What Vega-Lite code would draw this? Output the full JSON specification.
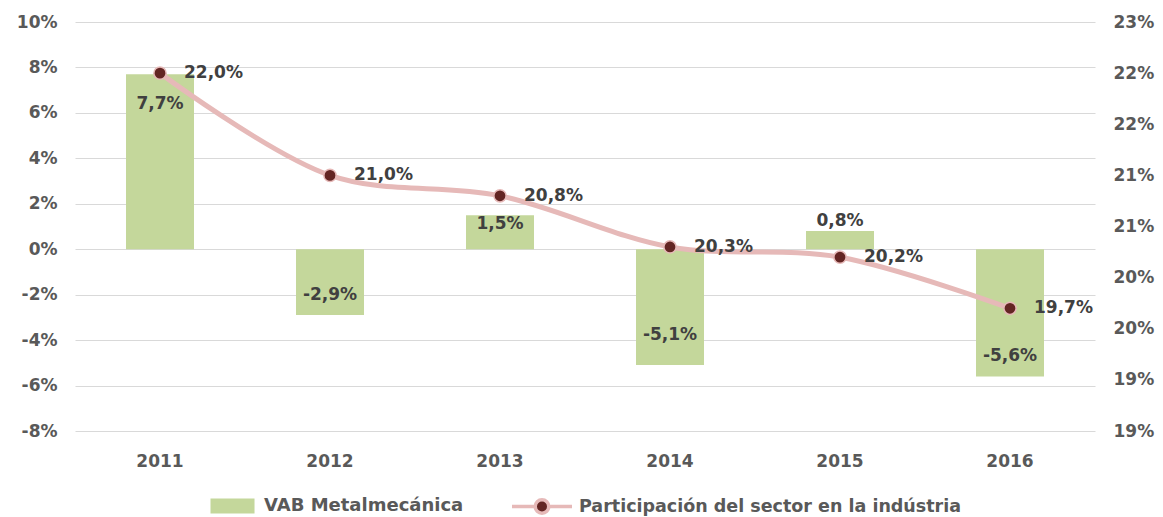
{
 "$schema": "https://vega.github.io/schema/vega-lite/v6.json",
 "width": 1020,
 "height": 409,
 "autosize": {"type": "none"},
 "padding": {"left": 75, "top": 22, "right": 68, "bottom": 86},
 "background": "white",
 "data": {"values": [
  {"year": "2011", "vab": 7.7, "part": 22.0},
  {"year": "2012", "vab": -2.9, "part": 21.0},
  {"year": "2013", "vab": 1.5, "part": 20.8},
  {"year": "2014", "vab": -5.1, "part": 20.3},
  {"year": "2015", "vab": 0.8, "part": 20.2},
  {"year": "2016", "vab": -5.6, "part": 19.7}
 ]},
 "encoding": {
  "x": {"field": "year", "type": "ordinal",
   "scale": {"paddingInner": 0.6, "paddingOuter": 0.3},
   "axis": {"title": null, "labelAngle": 0, "domain": false, "ticks": false, "labelPadding": 22,
    "labelFont": "DejaVu Sans", "labelFontWeight": "bold", "labelFontSize": 17, "labelColor": "#595959"}}
 },
 "layer": [
  {
   "encoding": {
    "y": {"field": "vab", "type": "quantitative",
     "scale": {"domain": [-8, 10], "nice": false},
     "axis": {"orient": "left", "title": null, "values": [-8, -6, -4, -2, 0, 2, 4, 6, 8, 10], "format": "$.0f",
      "grid": true, "gridColor": "#d9d9d9", "gridWidth": 1, "domain": false, "ticks": false, "labelPadding": 18,
      "labelFont": "DejaVu Sans", "labelFontWeight": "bold", "labelFontSize": 17, "labelColor": "#595959"}}
   },
   "layer": [
    {"mark": {"type": "bar"},
     "encoding": {"fill": {"datum": "VAB Metalmecánica", "scale": {"range": ["#c4d79b"]},
      "legend": {"title": null, "orient": "bottom", "symbolType": "M-1,-1H4.87V1H-1Z", "symbolSize": 225, "symbolStrokeWidth": 0,
       "labelFont": "DejaVu Sans", "labelFontWeight": "bold", "labelFontSize": 18, "labelColor": "#595959", "labelLimit": 600, "labelOffset": 37}}}},
    {"transform": [{"filter": "datum.year == '2011'"}],
     "mark": {"type": "text", "align": "center", "baseline": "middle", "dy": 30, "font": "DejaVu Sans", "fontWeight": "bold", "fontSize": 17, "color": "#404040"},
     "encoding": {"text": {"field": "vab", "type": "quantitative", "format": "$.1f"}}},
    {"transform": [{"filter": "datum.year == '2014'"}],
     "mark": {"type": "text", "align": "center", "baseline": "middle", "dy": -30, "font": "DejaVu Sans", "fontWeight": "bold", "fontSize": 17, "color": "#404040"},
     "encoding": {"text": {"field": "vab", "type": "quantitative", "format": "$.1f"}}},
    {"transform": [{"filter": "datum.year == '2012' || datum.year == '2016'"}],
     "mark": {"type": "text", "align": "center", "baseline": "middle", "dy": -20, "font": "DejaVu Sans", "fontWeight": "bold", "fontSize": 17, "color": "#404040"},
     "encoding": {"text": {"field": "vab", "type": "quantitative", "format": "$.1f"}}},
    {"transform": [{"filter": "datum.year == '2013'"}],
     "mark": {"type": "text", "align": "center", "baseline": "middle", "dy": 9, "font": "DejaVu Sans", "fontWeight": "bold", "fontSize": 17, "color": "#404040"},
     "encoding": {"text": {"field": "vab", "type": "quantitative", "format": "$.1f"}}},
    {"transform": [{"filter": "datum.year == '2015'"}],
     "mark": {"type": "text", "align": "center", "baseline": "middle", "dy": -10, "font": "DejaVu Sans", "fontWeight": "bold", "fontSize": 17, "color": "#404040"},
     "encoding": {"text": {"field": "vab", "type": "quantitative", "format": "$.1f"}}}
   ]
  },
  {
   "encoding": {
    "y": {"field": "part", "type": "quantitative",
     "scale": {"domain": [18.5, 22.5], "nice": false, "zero": false},
     "axis": {"orient": "right", "title": null, "values": [18.5, 19, 19.5, 20, 20.5, 21, 21.5, 22, 22.5], "format": "$.0f",
      "grid": false, "domain": false, "ticks": false, "labelPadding": 18,
      "labelFont": "DejaVu Sans", "labelFontWeight": "bold", "labelFontSize": 17, "labelColor": "#595959"}}
   },
   "layer": [
    {"mark": {"type": "line", "interpolate": "catmull-rom", "strokeWidth": 5, "strokeCap": "round"},
     "encoding": {"stroke": {"datum": "Participación del sector en la indústria", "scale": {"range": ["#e6b9b8"]},
      "legend": {"title": null, "orient": "bottom",
       "symbolType": "M-1,0H2.1M3.9,0H7M3.9,0A0.9,0.9 0 1,1 2.1,0A0.9,0.9 0 1,1 3.9,0",
       "symbolSize": 225, "symbolStrokeWidth": 3.5, "symbolFillColor": "#632523", "symbolStrokeColor": "#e6b9b8",
       "labelFont": "DejaVu Sans", "labelFontWeight": "bold", "labelFontSize": 17.5, "labelColor": "#595959", "labelLimit": 600, "labelOffset": 50}}}},
    {"mark": {"type": "circle", "size": 150, "fill": "#632523", "stroke": "#e6b9b8", "strokeWidth": 1.5, "opacity": 1}},
    {"mark": {"type": "text", "align": "left", "baseline": "middle", "dx": 24, "font": "DejaVu Sans", "fontWeight": "bold", "fontSize": 17, "color": "#404040"},
     "encoding": {"text": {"field": "part", "type": "quantitative", "format": "$.1f"}}}
   ]
  }
 ],
 "resolve": {"scale": {"y": "independent"}},
 "config": {
  "view": {"stroke": null},
  "locale": {"number": {"decimal": ",", "thousands": ".", "grouping": [3], "currency": ["", "%"], "minus": "-"}},
  "legend": {"offset": 28, "layout": {"bottom": {"anchor": "middle", "direction": "horizontal", "margin": 46}}}
 }
}
